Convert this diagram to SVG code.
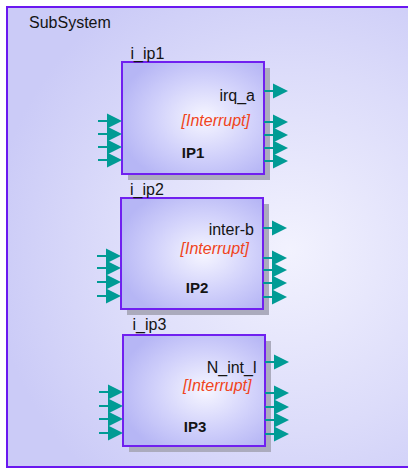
<svg xmlns="http://www.w3.org/2000/svg" xmlns:xlink="http://www.w3.org/1999/xlink" width="408" height="468" viewBox="0 0 408 468">
<defs>
<radialGradient id="bg" cx="290" cy="250" r="300" gradientUnits="userSpaceOnUse">
<stop offset="0" stop-color="#f2f2fe"/>
<stop offset="0.6" stop-color="#dcdcfa"/>
<stop offset="1" stop-color="#cbcbf7"/>
</radialGradient>
<radialGradient id="boxfill" cx="0.58" cy="0.5" r="0.62">
<stop offset="0" stop-color="#f6f6ff"/>
<stop offset="0.55" stop-color="#d2d2fb"/>
<stop offset="1" stop-color="#b6b6f5"/>
</radialGradient>
<g id="arr">
<path d="M0 0 H10" stroke="#009b95" stroke-width="2" fill="none"/>
<path d="M9 -7.5 L24 0 L9 7.5 Z" fill="#009b95"/>
</g>
</defs>
<style>
.lbl{font-family:"Liberation Sans",Arial,sans-serif;font-size:16px;fill:#141414}
.int{font-family:"Liberation Sans",Arial,sans-serif;font-size:16px;font-style:italic;fill:#f04420}
.name{font-family:"Liberation Sans",Arial,sans-serif;font-size:15px;font-weight:bold;fill:#141414}
.box{fill:url(#boxfill);stroke:#7020f0;stroke-width:2}
.shadow{fill:#ababbd}
</style>
<rect x="0" y="0" width="408" height="468" fill="#ffffff"/>
<g id="subsystem">
<rect x="7" y="7" width="420" height="460" fill="url(#bg)" stroke="#6a18f0" stroke-width="2"/>
<text class="lbl" x="29" y="28">SubSystem</text>
</g>
<g id="i_ip1">
<rect class="shadow" x="128" y="68" width="142" height="112"/>
<rect class="box" x="122" y="62" width="142" height="112"/>
<text class="lbl" x="130.5" y="59">i_ip1</text>
<text class="lbl" x="255" y="101" text-anchor="end">irq_a</text>
<text class="int" x="250" y="126" text-anchor="end">[Interrupt]</text>
<text class="name" x="193" y="158" text-anchor="middle">IP1</text>
<use xlink:href="#arr" x="98" y="121"/>
<use xlink:href="#arr" x="98" y="134"/>
<use xlink:href="#arr" x="98" y="147"/>
<use xlink:href="#arr" x="98" y="160"/>
<use xlink:href="#arr" x="264" y="91"/>
<use xlink:href="#arr" x="264" y="122"/>
<use xlink:href="#arr" x="264" y="135"/>
<use xlink:href="#arr" x="264" y="148"/>
<use xlink:href="#arr" x="264" y="161"/>
</g>
<g id="i_ip2">
<rect class="shadow" x="127" y="204" width="142" height="111"/>
<rect class="box" x="121" y="198" width="142" height="111"/>
<text class="lbl" x="130" y="195">i_ip2</text>
<text class="lbl" x="254" y="235" text-anchor="end">inter-b</text>
<text class="int" x="249" y="254" text-anchor="end">[Interrupt]</text>
<text class="name" x="197" y="293" text-anchor="middle">IP2</text>
<use xlink:href="#arr" x="97" y="256"/>
<use xlink:href="#arr" x="97" y="268"/>
<use xlink:href="#arr" x="97" y="282"/>
<use xlink:href="#arr" x="97" y="296"/>
<use xlink:href="#arr" x="263" y="228"/>
<use xlink:href="#arr" x="263" y="258"/>
<use xlink:href="#arr" x="263" y="270"/>
<use xlink:href="#arr" x="263" y="283"/>
<use xlink:href="#arr" x="263" y="297"/>
</g>
<g id="i_ip3">
<rect class="shadow" x="129" y="341" width="142" height="111"/>
<rect class="box" x="123" y="335" width="142" height="111"/>
<text class="lbl" x="132.5" y="330">i_ip3</text>
<text class="lbl" x="256.5" y="373" text-anchor="end">N_int_l</text>
<text class="int" x="251.5" y="391" text-anchor="end">[Interrupt]</text>
<text class="name" x="195" y="432" text-anchor="middle">IP3</text>
<use xlink:href="#arr" x="99" y="392"/>
<use xlink:href="#arr" x="99" y="406"/>
<use xlink:href="#arr" x="99" y="419"/>
<use xlink:href="#arr" x="99" y="433"/>
<use xlink:href="#arr" x="265" y="362"/>
<use xlink:href="#arr" x="265" y="393"/>
<use xlink:href="#arr" x="265" y="407"/>
<use xlink:href="#arr" x="265" y="420"/>
<use xlink:href="#arr" x="265" y="434"/>
</g>
<g id="connectors"/>
</svg>
